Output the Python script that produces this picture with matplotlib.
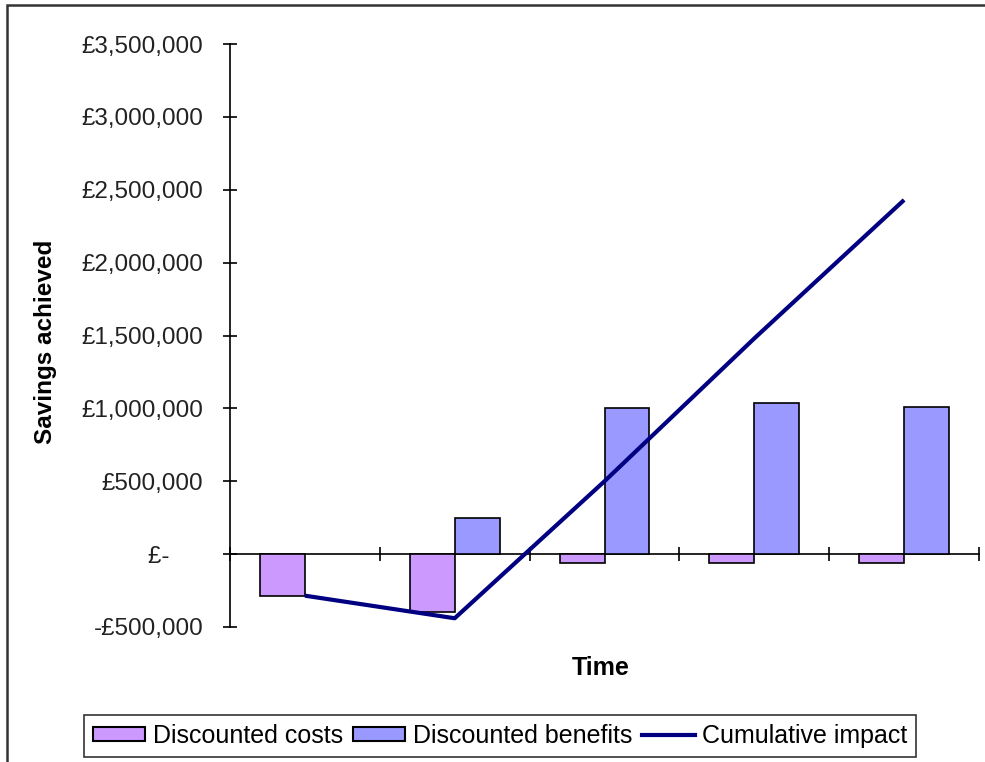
import matplotlib
matplotlib.use("Agg")
import matplotlib.pyplot as plt
import matplotlib.patches as mpatches
from matplotlib.lines import Line2D
import numpy as np

plt.rcParams['font.family'] = ['Liberation Sans', 'DejaVu Sans']

# Five time periods, values in pounds
periods = [1, 2, 3, 4, 5]
costs = [-285000, -400000, -60000, -60000, -60000]
benefits = [0, 245000, 1000000, 1040000, 1010000]
cumulative = [-285000, -440000, 500000, 1480000, 2430000]

yticks = [-500000, 0, 500000, 1000000, 1500000, 2000000, 2500000, 3000000, 3500000]
ytick_labels = ['-£500,000', '£-     ', '£500,000', '£1,000,000', '£1,500,000',
                '£2,000,000', '£2,500,000', '£3,000,000', '£3,500,000']

cost_color = '#CC99FF'
benefit_color = '#9999FF'
line_color = '#000080'

W, H = 985, 762
fig = plt.figure(figsize=(W / 100, H / 100), dpi=100)
ax = fig.add_axes([230 / W, 1 - 627 / H, (979 - 230) / W, (627 - 44) / H])

x = np.arange(len(periods)) + 0.5
bw = 0.3
c = np.array(costs, dtype=float)
b = np.array(benefits, dtype=float)
# empty periods get no bar outline
ax.bar(x[c != 0] - bw / 2, c[c != 0], bw, color=cost_color, edgecolor='black',
       linewidth=1.2, zorder=2)
ax.bar(x[b != 0] + bw / 2, b[b != 0], bw, color=benefit_color, edgecolor='black',
       linewidth=1.2, zorder=2)
ax.plot(x, cumulative, color=line_color, linewidth=3, zorder=3, solid_capstyle='butt')

ax.set_xlim(0, len(periods))
ax.set_ylim(-500000, 3500000)
ax.set_yticks(yticks)
ax.set_yticklabels(ytick_labels)
ax.set_xticks(np.arange(len(periods) + 1))
ax.set_xticklabels([])

for s in ['top', 'right']:
    ax.spines[s].set_visible(False)
ax.spines['bottom'].set_position(('data', 0))
ax.spines['bottom'].set_linewidth(1.2)
ax.spines['left'].set_linewidth(1.2)
ax.spines['bottom'].set_zorder(1)

ax.tick_params(axis='y', direction='inout', length=10.5, width=1.2, pad=14,
               labelsize=17.5, labelcolor='#222222')
ax.tick_params(axis='x', direction='inout', length=10.5, width=1.2)

fig.text(46 / W, 1 - 342 / H, 'Savings achieved', rotation=90, fontsize=17.5,
         fontweight='bold', ha='center', va='center')
fig.text(601 / W, 1 - 668 / H, 'Time', fontsize=18, fontweight='bold',
         ha='center', va='center')

handles = [
    mpatches.Patch(facecolor=cost_color, edgecolor='black', linewidth=1.5),
    mpatches.Patch(facecolor=benefit_color, edgecolor='black', linewidth=1.5),
    Line2D([], [], color=line_color, linewidth=3),
]
leg = fig.legend(handles, ['Discounted costs', 'Discounted benefits', 'Cumulative impact'],
                 loc='center', bbox_to_anchor=(500 / W, 1 - 736 / H), ncol=3,
                 fontsize=18, frameon=True, fancybox=False, handlelength=2.1,
                 handleheight=0.5, handletextpad=0.3, columnspacing=0.4,
                 borderpad=0.35, borderaxespad=0)
leg.get_frame().set_edgecolor('black')
leg.get_frame().set_linewidth(1.2)

# outer chart border
fig.add_artist(mpatches.Rectangle((7 / W, -0.1), 2, 1.1 - 5 / H, transform=fig.transFigure,
                                  fill=False, edgecolor='#333333', linewidth=1.8))

fig.savefig('out.png', dpi=100)
